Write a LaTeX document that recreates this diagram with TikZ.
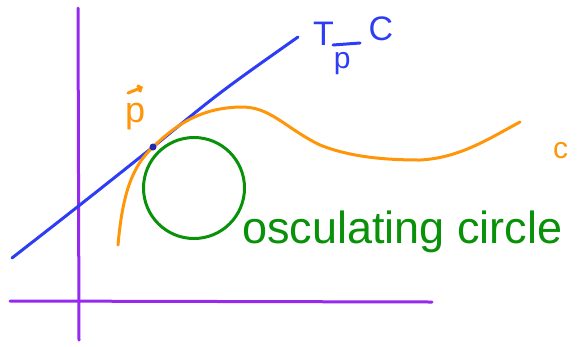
\documentclass[tikz,border=0pt]{standalone}
\usepackage{fontspec}
\setmainfont{Liberation Sans}
\usetikzlibrary{arrows.meta}
\definecolor{pen blue}{RGB}{45,60,245}
\definecolor{pen orange}{RGB}{255,150,10}
\definecolor{pen green}{RGB}{10,145,10}
\definecolor{pen purple}{RGB}{150,40,240}
\tikzset{
  stroke/.style={line width=3pt, line cap=round, line join=round},
  hand/.style={inner sep=0pt, anchor=base west},
  vecmark/.style={line width=3pt, line cap=round, -{Straight Barb[length=3pt,width=7pt]}}
}
\begin{document}
\begin{tikzpicture}[x=1pt,y=-1pt]
\useasboundingbox (0,0) rectangle (577,346);
% axes
\draw[stroke, pen purple] (78,8) -- (79,340);
\draw[stroke, pen purple] (10,301) -- (432,302);
% tangent line
\coordinate (t0) at (12,258);
\coordinate (t1) at (298,37);
\coordinate (tp) at (153,147);
\draw[stroke, pen blue] (t0) .. controls (80,205) .. (tp) .. controls (220,92) .. (t1);
% curve C
\draw[stroke, pen orange] (118,245) .. controls (122,200) and (130,170) .. (150,150)
  .. controls (175,125) and (200,108) .. (240,107)
  .. controls (270,106) and (285,128) .. (320,145)
  .. controls (350,157) and (385,160) .. (420,160)
  .. controls (460,158) and (490,138) .. (520,122);
% tangent point
\fill[pen blue!70!black] (tp) circle (3.5);
% osculating circle
\node[draw=pen green, line width=3pt, circle, minimum size=101pt, inner sep=0pt] (osc) at (194,188) {};
% labels
\node[hand, text=pen orange, font=\fontsize{36}{40}\selectfont] (p) at (125,122) {p};
\draw[vecmark, pen orange] (128,93) -- (143,87);
\node[hand, text=pen blue, font=\fontsize{34}{38}\selectfont] (T) at (313,45)
  {T\raisebox{-23pt}{\fontsize{30}{34}\selectfont p}\hspace{18pt}\raisebox{5pt}{C}};
\draw[stroke, pen blue] (333,45) -- (360,43);
\node[hand, text=pen orange, font=\fontsize{30}{34}\selectfont] (c) at (553,158) {c};
\node[hand, text=pen green, font=\fontsize{45}{50}\selectfont] (lbl) at (242,243) {osculating circle};
\end{tikzpicture}
\end{document}
